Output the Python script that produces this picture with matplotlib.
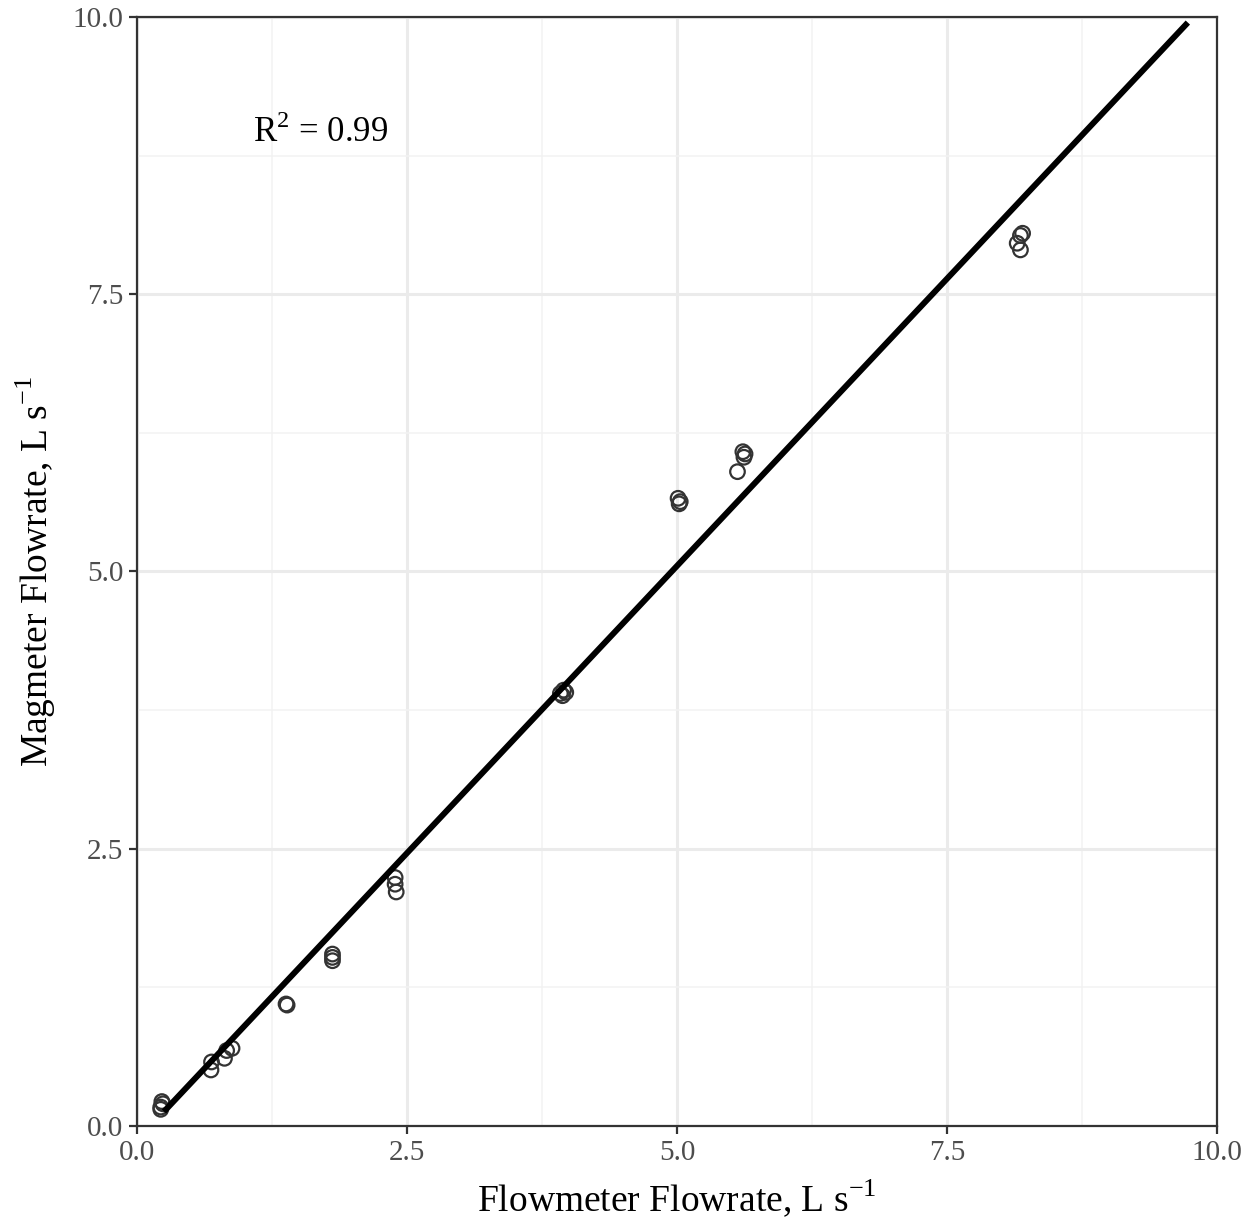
import numpy as np
import matplotlib
matplotlib.use("Agg")
import matplotlib.pyplot as plt
from matplotlib.ticker import MultipleLocator

plt.rcParams['font.family'] = ['Liberation Serif', 'DejaVu Serif']
plt.rcParams['mathtext.fontset'] = 'custom'
plt.rcParams['mathtext.rm'] = 'Liberation Serif'

# flowmeter vs magmeter readings, L/s
flowmeter = [0.22, 0.23, 0.24, 0.22, 0.69, 0.685, 0.81, 0.83, 0.88,
             1.38, 1.39, 1.81, 1.81, 1.81, 2.39, 2.39, 2.40,
             3.92, 3.94, 3.97, 3.95, 5.01, 5.03, 5.02,
             5.61, 5.62, 5.63, 5.56, 8.18, 8.15, 8.18, 8.20]
magmeter = [0.17, 0.22, 0.20, 0.15, 0.577, 0.505, 0.61, 0.68, 0.70,
            1.10, 1.09, 1.52, 1.49, 1.55, 2.24, 2.18, 2.11,
            3.90, 3.88, 3.91, 3.93, 5.66, 5.63, 5.61,
            6.08, 6.03, 6.06, 5.90, 8.03, 7.96, 7.90, 8.05]

# fitted line end points
fit_x = [0.25, 9.73]
fit_y = [0.13, 9.95]
r2_label = r'R$^2$ = 0.99'

fig = plt.figure(figsize=(12.5, 12.24), dpi=100)
ax = fig.add_axes([0.1096, 0.0801, 0.864, 0.906])

ax.scatter(flowmeter, magmeter, s=110, facecolors='none', edgecolors='#333333',
           linewidths=1.6, zorder=3)
ax.plot(fit_x, fit_y, color='black', lw=4.3, solid_capstyle='butt', zorder=4)

ax.text(1.07, 8.96, r2_label, fontsize=25, ha='left', va='center', color='black')

ax.set_xlim(0, 10)
ax.set_ylim(0, 10)
ax.xaxis.set_major_locator(MultipleLocator(2.5))
ax.yaxis.set_major_locator(MultipleLocator(2.5))
ax.xaxis.set_minor_locator(MultipleLocator(1.25))
ax.yaxis.set_minor_locator(MultipleLocator(1.25))
ax.xaxis.set_major_formatter(lambda v, p: f'{v:.1f}')
ax.yaxis.set_major_formatter(lambda v, p: f'{v:.1f}')

ax.grid(which='major', color='#EBEBEB', lw=2.2)
ax.grid(which='minor', color='#F2F2F2', lw=1.1)
ax.set_axisbelow(True)

for s in ax.spines.values():
    s.set_color('#333333')
    s.set_linewidth(1.6)

ax.tick_params(which='major', length=6, width=1.6, color='#333333',
               labelsize=21, labelcolor='#4D4D4D', pad=4)
ax.tick_params(which='minor', length=0)

ax.set_xlabel(r'Flowmeter Flowrate, L s$^{-1}$', fontsize=27, labelpad=8)
ax.set_ylabel(r'Magmeter Flowrate, L s$^{-1}$', fontsize=27, labelpad=10)

fig.savefig('out.png', dpi=100)
